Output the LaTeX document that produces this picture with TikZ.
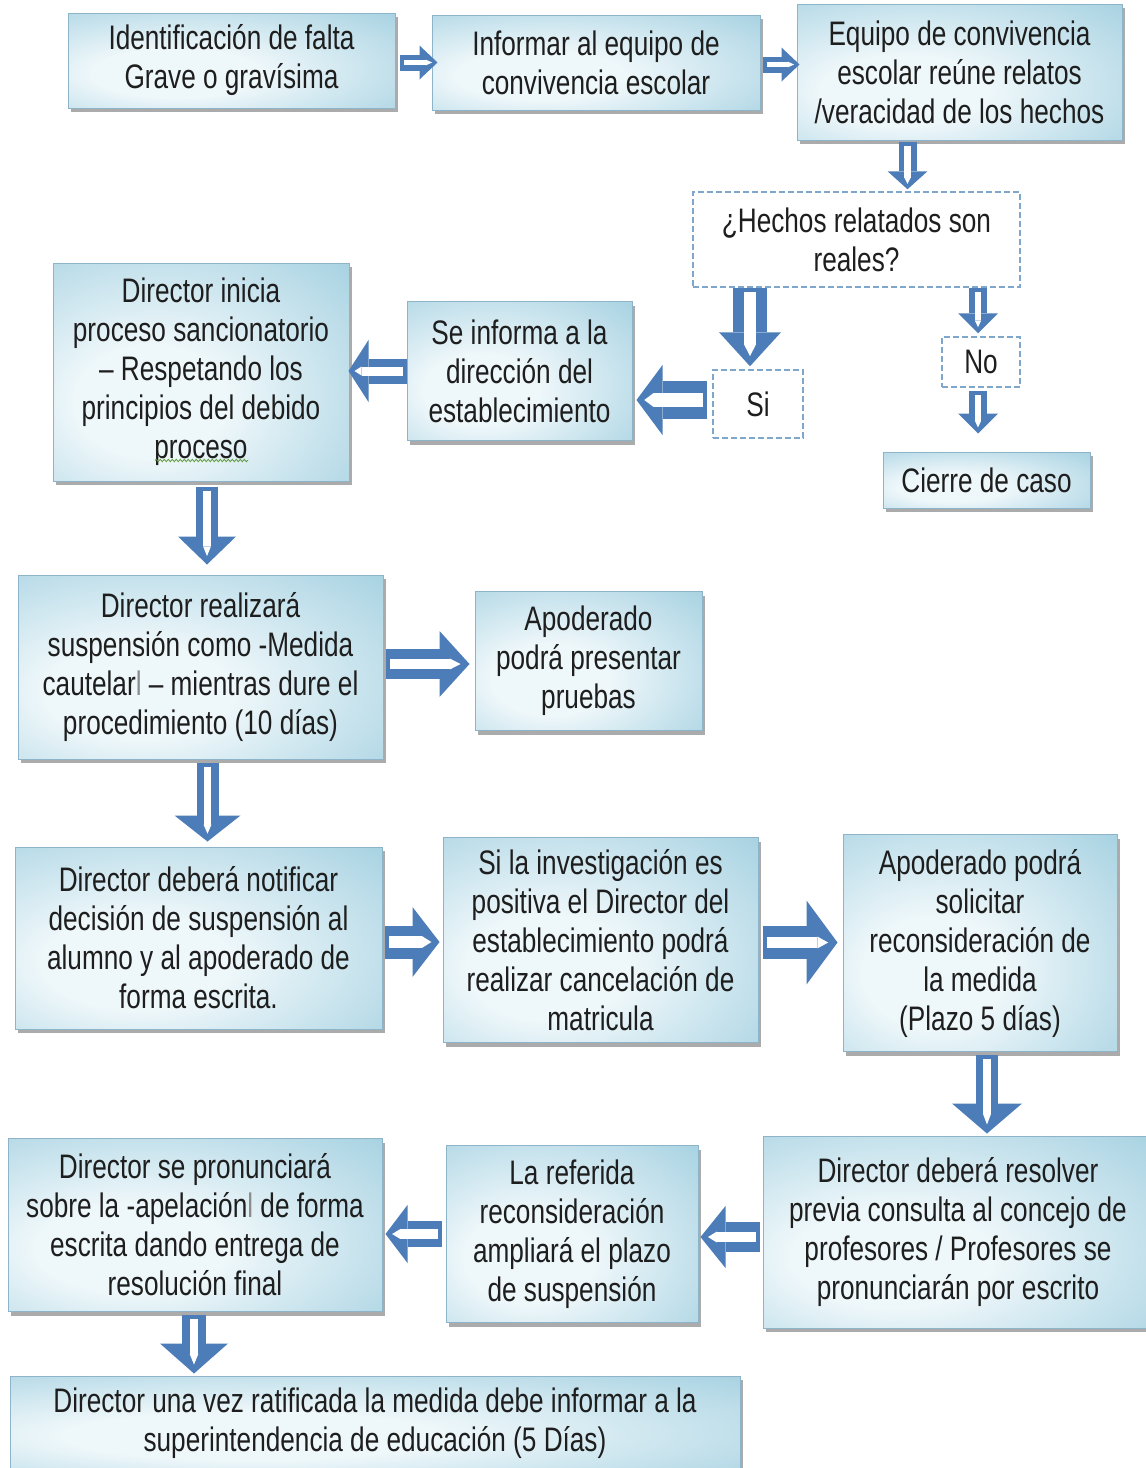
\documentclass[tikz,border=0pt]{standalone}
\usepackage{fontspec}
\setmainfont[FakeStretch=0.77]{Liberation Sans}
\usetikzlibrary{arrows.meta,calc,shadows,decorations.pathmorphing}

\definecolor{boxin}{HTML}{EEF7FA}
\definecolor{boxout}{HTML}{94C8DB}
\definecolor{boxcorner}{HTML}{579FBE}
\definecolor{boxline}{HTML}{8DB4C8}
\definecolor{arrowblue}{HTML}{4C7DB8}
\definecolor{dashblue}{HTML}{7FA7CC}
\definecolor{inktext}{HTML}{1E1E1E}
\definecolor{spellgreen}{HTML}{5E9A3A}

% soft blue fill, lighter towards the lower left, strongest at the upper right corner
\pgfdeclareradialshading{boxshade}{\pgfpoint{-10bp}{-8bp}}{%
  color(0bp)=(boxin); color(13bp)=(boxin); color(50bp)=(boxout); color(85bp)=(boxcorner)}

% hollow block arrow: shaft width, head width, head length, start, end
\newcommand\blockarrow[5]{%
  \pgfmathsetmacro\innerend{0.3*#3}%
  \pgfmathsetmacro\innertip{0.35*#3}%
  \pgfmathsetmacro\innerw{0.36*#1}%
  \draw[arrowblue, line width=#1pt,
        -{Triangle[width=#2pt,length=#3pt,line width=0pt]}] #4 -- #5;
  \draw[white, line width=\innerw pt, shorten <=4pt, shorten >=\innerend pt,
        -{Triangle[width=\innerw pt,length=\innertip pt,line width=0pt]}] #4 -- #5;
}

\tikzset{
  every node/.style={font=\fontsize{34}{39}\selectfont, text=inktext},
  stagebox/.style={rectangle, shade, shading=boxshade, draw=boxline, line width=1pt,
    align=center, inner sep=0pt,
    drop shadow={shadow xshift=3pt, shadow yshift=-4pt, fill=black!60, opacity=0.55}},
  choicebox/.style={rectangle, draw=dashblue, line width=1.5pt,
    dash pattern=on 6pt off 3pt, fill=white, align=center, inner sep=0pt},
}

\begin{document}
\begin{tikzpicture}[x=1pt,y=-1pt]
\fill[white] (0,0) rectangle (1146,1468);
\useasboundingbox (0,0) rectangle (1146,1468);

% first row
\node[stagebox, minimum width=327pt, minimum height=95pt] (n1) at (231.5,60.5)
  {Identificación de falta\\Grave o gravísima};
\node[stagebox, minimum width=328pt, minimum height=95pt] (n2) at (596,62.5)
  {Informar al equipo de\\convivencia escolar};
\node[stagebox, minimum width=325pt, minimum height=136pt] (n3) at (959.5,72)
  {Equipo de convivencia\\escolar reúne relatos\\/veracidad de los hechos};

% decision
\node[choicebox, minimum width=327pt, minimum height=95pt] (dec) at (856.5,239.5)
  {¿Hechos relatados son\\reales?};
\node[choicebox, minimum width=90pt, minimum height=68pt] (si) at (758,404) {Si};
\node[choicebox, minimum width=78pt, minimum height=50pt] (no) at (981,362) {No};
\node[stagebox, minimum width=207pt, minimum height=56pt] (cierre) at (986.5,480)
  {Cierre de caso};

% sanction process
\node[stagebox, minimum width=225pt, minimum height=139pt] (dirinfo) at (519.5,371)
  {Se informa a la\\dirección del\\establecimiento};
\node[stagebox, minimum width=296pt, minimum height=218pt] (inicia) at (201,372)
  {Director inicia\\proceso sancionatorio\\– Respetando los\\principios del debido\\proceso};
\node[stagebox, minimum width=365pt, minimum height=184pt] (realiza) at (200.5,667)
  {Director realizará\\suspensión como -Medida\\cautelar\textcolor{black!45}{l} – mientras dure el\\procedimiento (10 días)};
\node[stagebox, minimum width=227pt, minimum height=139pt] (apod) at (588.5,661)
  {Apoderado\\podrá presentar\\pruebas};
\node[stagebox, minimum width=367pt, minimum height=182pt] (notif) at (198.5,938)
  {Director deberá notificar\\decisión de suspensión al\\alumno y al apoderado de\\forma escrita.};
\node[stagebox, minimum width=315pt, minimum height=205pt] (inv) at (600.5,940)
  {Si la investigación es\\positiva el Director del\\establecimiento podrá\\realizar cancelación de\\matricula};
\node[stagebox, minimum width=274pt, minimum height=217pt] (apod2) at (980,943)
  {Apoderado podrá\\solicitar\\reconsideración de\\la medida\\(Plazo 5 días)};
\node[stagebox, minimum width=390pt, minimum height=192pt] (resolver) at (958,1232)
  {Director deberá resolver\\previa consulta al concejo de\\profesores / Profesores se\\pronunciarán por escrito};
\node[stagebox, minimum width=252pt, minimum height=177pt] (referida) at (572,1234)
  {La referida\\reconsideración\\ampliará el plazo\\de suspensión};
\node[stagebox, minimum width=374pt, minimum height=173pt] (pronuncia) at (195,1225)
  {Director se pronunciará\\sobre la -apelación\textcolor{black!45}{l} de forma\\escrita dando entrega de\\resolución final};
\node[stagebox, minimum width=730pt, minimum height=94pt] (final) at (375,1423)
  {Director una vez ratificada la medida debe informar a la\\superintendencia de educación (5 Días)};

% spelling mark under the last word of the process box
\draw[spellgreen, line width=0.8pt, decorate,
      decoration={snake, amplitude=1.2pt, segment length=4pt}]
  ($(inicia.south)+(-46,-21)$) -- ($(inicia.south)+(47,-21)$);

% connectors
\blockarrow{16}{34}{18}{($(n1.east |- n2.west)+(4,0)$)}{($(n2.west)+(6,0)$)}
\blockarrow{16}{34}{18}{($(n2.east)+(2,2)$)}{($(n3.west |- n2.east)+(3,2)$)}
\blockarrow{18}{40}{18}{($(n3.south)+(-52,1)$)}{($(dec.north -| n3.south)+(-52,-2)$)}
\blockarrow{34}{62}{34}{($(si.north |- dec.south)+(-8,0)$)}{($(si.north)+(-8,-3)$)}
\blockarrow{18}{40}{20}{($(no.north |- dec.south)+(-3,0)$)}{($(no.north)+(-3,-3)$)}
\blockarrow{18}{40}{20}{($(no.south)+(-3,3)$)}{($(cierre.north -| no.south)+(-3,-18)$)}
\blockarrow{38}{70}{26}{($(si.west)+(-5,-4)$)}{($(dirinfo.east |- si.west)+(4,-4)$)}
\blockarrow{25}{62}{20}{(dirinfo.west)}{($(inicia.east |- dirinfo.west)+(-1,0)$)}
\blockarrow{22}{58}{28}{($(inicia.south)+(6,5)$)}{($(realiza.north -| inicia.south)+(6,-10)$)}
\blockarrow{30}{66}{30}{($(realiza.east |- apod.west)+(2,3)$)}{($(apod.west)+(-5,3)$)}
\blockarrow{22}{66}{26}{($(realiza.south)+(7,3)$)}{($(notif.north -| realiza.south)+(7,-5)$)}
\blockarrow{33}{70}{27}{($(notif.east)+(2,4)$)}{($(inv.west |- notif.east)+(-3,4)$)}
\blockarrow{33}{84}{31}{($(inv.east)+(4,2.5)$)}{($(apod2.west |- inv.east)+(-5,2.5)$)}
\blockarrow{22}{70}{30}{($(apod2.south)+(7,3)$)}{($(resolver.north -| apod2.south)+(7,-2)$)}
\blockarrow{30}{62}{25}{($(resolver.west |- referida.east)+(-3,3)$)}{($(referida.east)+(2,3)$)}
\blockarrow{26}{58}{22}{($(referida.west)+(-4,0)$)}{($(pronuncia.east |- referida.west)+(3,0)$)}
\blockarrow{24}{68}{30}{($(pronuncia.south)+(-1,3)$)}{($(final.north -| pronuncia.south)+(-1,-2)$)}
\end{tikzpicture}
\end{document}
